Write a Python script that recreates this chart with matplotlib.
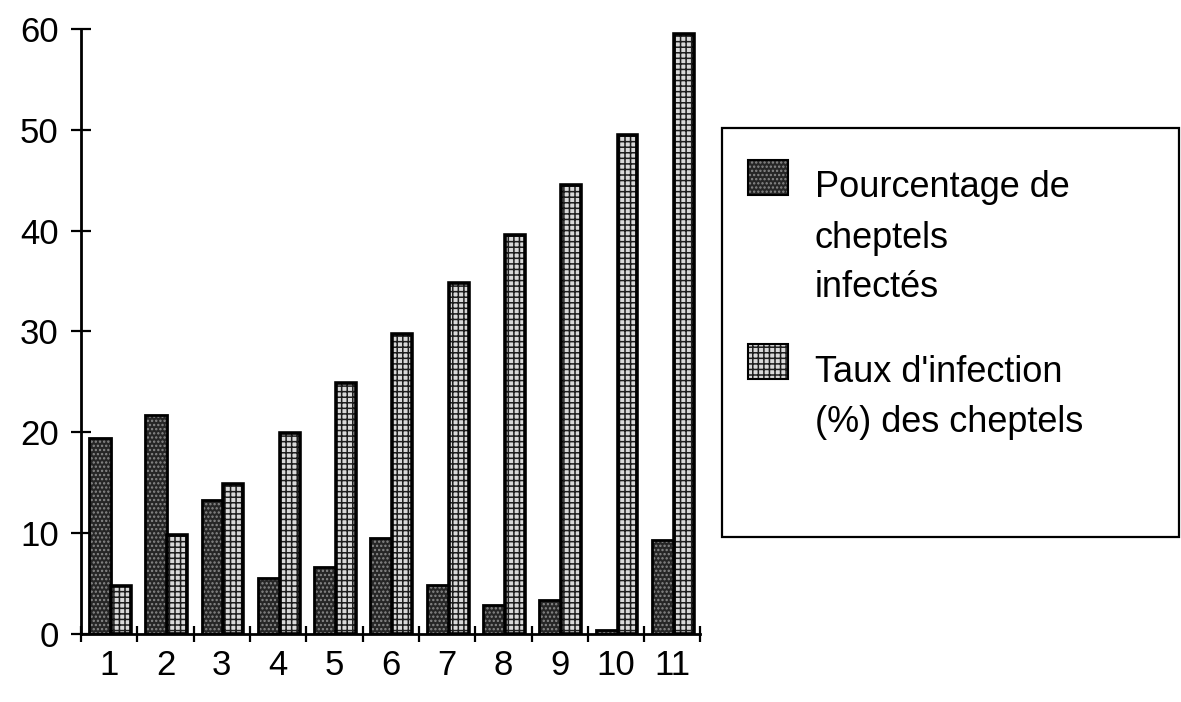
import numpy as np
import matplotlib
matplotlib.use("Agg")
import matplotlib.pyplot as plt
from matplotlib.patches import Rectangle

plt.rcParams['font.family'] = ['Liberation Sans', 'DejaVu Sans']
plt.rcParams['hatch.linewidth'] = 1.1

categories = ['1', '2', '3', '4', '5', '6', '7', '8', '9', '10', '11']
pct_infectes = [19.4, 21.7, 13.3, 5.6, 6.6, 9.5, 4.9, 2.9, 3.4, 0.4, 9.3]
taux_infection = [4.8, 9.8, 14.9, 19.9, 24.9, 29.8, 34.8, 39.6, 44.5, 49.5, 59.5]
label_lines = [["Pourcentage de", "cheptels", "infectés"],
               ["Taux d'infection", "(%) des cheptels"]]

fig = plt.figure(figsize=(11.81, 7.02), dpi=100)
ax = fig.add_axes([0.0686, 0.0969, 0.5245, 0.8618])

x = np.arange(1, len(categories) + 1)
w = 0.39
x_dark = x - 0.5 + 0.14
x_light = x_dark + w

dark_style = dict(color='#262626', edgecolor='#8a8a8a', hatch='....', linewidth=0)
light_style = dict(color='#d9d9d9', edgecolor='#1e1e1e', hatch='+++', linewidth=0)

# fill + hatch, then black outline on top
ax.bar(x_dark, pct_infectes, w, align='edge', **dark_style)
ax.bar(x_dark, pct_infectes, w, align='edge', fill=False, edgecolor='black', linewidth=2)
ax.bar(x_light, taux_infection, w * 0.9, align='edge', **light_style)
ax.bar(x_light, taux_infection, w * 0.9, align='edge', fill=False, edgecolor='black', linewidth=2.6)

ax.set_xlim(0.5, 11.5)
ax.set_ylim(0, 60)
ax.spines['top'].set_visible(False)
ax.spines['right'].set_visible(False)
ax.spines['left'].set_linewidth(2)
ax.spines['bottom'].set_linewidth(2)

ax.set_yticks(range(0, 61, 10))
ax.tick_params(axis='y', direction='inout', length=14, width=1.6, labelsize=25, pad=9)
ax.set_xticks(np.arange(0.5, 12, 1))
ax.set_xticklabels([''] * 12)
ax.tick_params(axis='x', which='major', direction='inout', length=12, width=1.6)
ax.set_xticks(x, minor=True)
ax.set_xticklabels(categories, minor=True, fontsize=25)
ax.tick_params(axis='x', which='minor', length=0, pad=11)

# legend box
F = fig.transFigure
fig.add_artist(Rectangle((722 / 1181, 1 - 537 / 702), (1179 - 722) / 1181, (537 - 128) / 702,
                         transform=F, fill=False, edgecolor='black', linewidth=1.6))
for style, y0 in [(dark_style, 160), (light_style, 344)]:
    fig.add_artist(Rectangle((748 / 1181, 1 - (y0 + 35) / 702), 40 / 1181, 35 / 702,
                             transform=F, facecolor=style['color'], edgecolor=style['edgecolor'],
                             hatch=style['hatch'], linewidth=0))
    fig.add_artist(Rectangle((748 / 1181, 1 - (y0 + 35) / 702), 40 / 1181, 35 / 702,
                             transform=F, fill=False, edgecolor='black', linewidth=1.5))
baselines = [[197, 248, 297], [382, 432]]
for lines, bls in zip(label_lines, baselines):
    for txt, b in zip(lines, bls):
        fig.text(815 / 1181, 1 - b / 702, txt, fontsize=26, va='baseline')

fig.savefig('out.png', dpi=100)
